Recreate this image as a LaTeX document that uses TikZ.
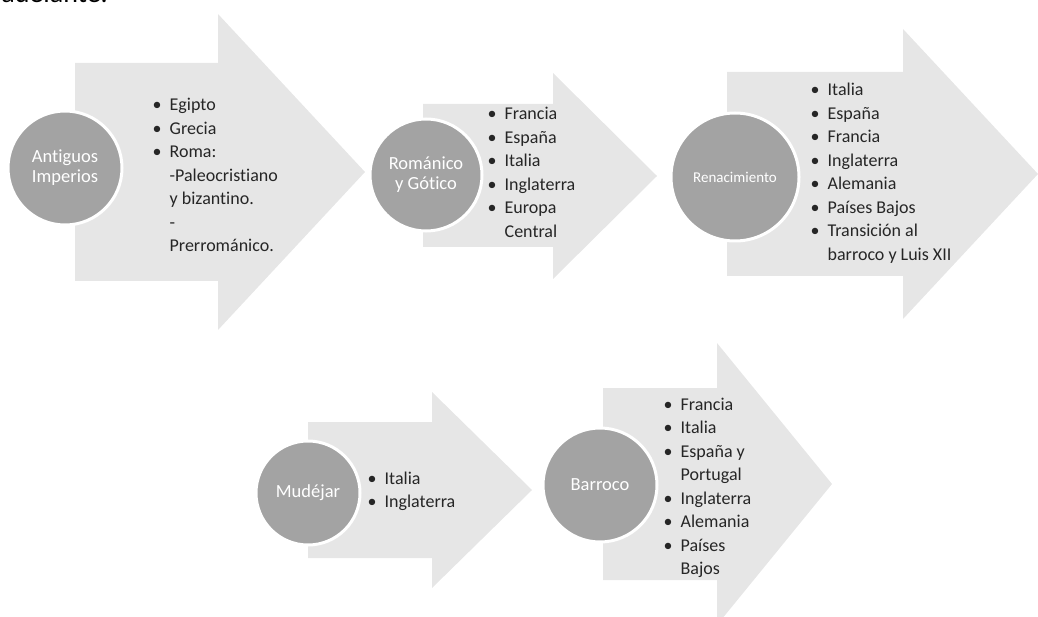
\documentclass[tikz,border=0pt]{standalone}
\usepackage{fontspec}
\setmainfont[Ligatures=NoCommon]{Carlito}
\usepackage{tikz}
\usetikzlibrary{calc}

\definecolor{grisflecha}{HTML}{E6E6E6}
\definecolor{griscirculo}{HTML}{A3A3A3}
\definecolor{gristexto}{HTML}{262626}

\tikzset{
	flecha/.style={fill=grisflecha},
	etapa/.style={circle, fill=griscirculo, draw=white, line width=3pt, text=white, align=center, inner sep=0pt, font=\fontsize{18.5}{20}\selectfont},
	lista/.style={anchor=base west, inner sep=0pt, text=gristexto, font=\fontsize{18}{23.5}\selectfont}
}

\begin{document}
\begin{tikzpicture}[x=1pt,y=-1pt]
\useasboundingbox (0,0) rectangle (1038,617);
%\draw[red] (0,0) rectangle (1038,617);
\node[anchor=base east, inner sep=0pt, font=\fontsize{28}{30}\selectfont] (resto) at (108,3) {adelante.};

% flechas
\fill[flecha] (75,63) -- (218,63) -- (218,14) -- (365,172) -- (218,330) -- (218,281) -- (75,281) -- cycle;
\fill[flecha] (423,104) -- (553,104) -- (553,73) -- (657,176) -- (553,279) -- (553,247) -- (423,247) -- cycle;
\fill[flecha] (727,72) -- (903,72) -- (903,29) -- (1038,174) -- (903,319) -- (903,276) -- (727,276) -- cycle;
\fill[flecha] (308,422) -- (432,422) -- (432,392) -- (532,490) -- (432,588) -- (432,558) -- (308,558) -- cycle;
\fill[flecha] (603,388) -- (717,388) -- (717,343) -- (832,484) -- (717,625) -- (717,580) -- (603,580) -- cycle;

% circulos
\node[etapa, minimum size=114pt] (antiguos) at (65,168) {Antiguos\\Imperios};
\node[etapa, minimum size=112pt] (romanico) at (426,175) {Románico\\y Gótico};
\node[etapa, minimum size=128pt, font=\fontsize{15}{18}\selectfont] (renacimiento) at (735,177) {Renacimiento};
\node[etapa, minimum size=104pt] (mudejar) at (308,493) {Mudéjar};
\node[etapa, minimum size=114pt] (barroco) at (600,485) {Barroco};

% listas
\node[lista] (l-antiguos) at (152.5,111) {\begin{tabular}[t]{@{}l@{\hspace{8pt}}l@{}}
	\textbullet & Egipto\\
	\textbullet & Grecia\\
	\textbullet & Roma:\\
	& -Paleocristiano\\
	& y bizantino.\\
	& -\\
	& Prerrománico.
\end{tabular}};
\node[lista] (l-romanico) at (487.5,120) {\begin{tabular}[t]{@{}l@{\hspace{8pt}}l@{}}
	\textbullet & Francia\\
	\textbullet & España\\
	\textbullet & Italia\\
	\textbullet & Inglaterra\\
	\textbullet & Europa\\
	& Central
\end{tabular}};
\node[lista] (l-renacimiento) at (810.5,96) {\begin{tabular}[t]{@{}l@{\hspace{8pt}}l@{}}
	\textbullet & Italia\\
	\textbullet & España\\
	\textbullet & Francia\\
	\textbullet & Inglaterra\\
	\textbullet & Alemania\\
	\textbullet & Países Bajos\\
	\textbullet & Transición al\\
	& barroco y Luis XII
\end{tabular}};
\node[lista] (l-mudejar) at (367.5,484) {\begin{tabular}[t]{@{}l@{\hspace{8pt}}l@{}}
	\textbullet & Italia\\
	\textbullet & Inglaterra
\end{tabular}};
\node[lista] (l-barroco) at (663.5,410) {\begin{tabular}[t]{@{}l@{\hspace{8pt}}l@{}}
	\textbullet & Francia\\
	\textbullet & Italia\\
	\textbullet & España y\\
	& Portugal\\
	\textbullet & Inglaterra\\
	\textbullet & Alemania\\
	\textbullet & Países\\
	& Bajos
\end{tabular}};
\end{tikzpicture}
\end{document}
